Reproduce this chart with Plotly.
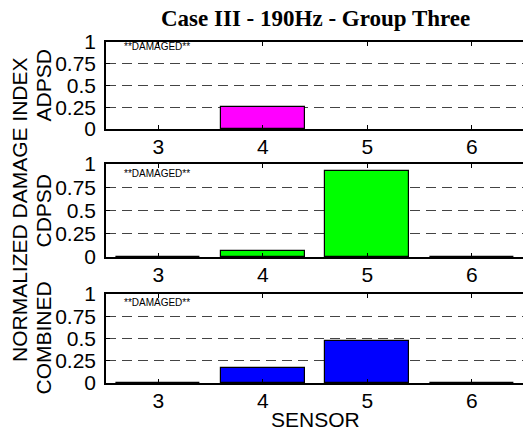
import plotly.graph_objects as go

sensors = [3, 4, 5, 6]
adpsd = [0.0, 0.25, 0.0, 0.0]
cdpsd = [0.005, 0.068, 0.93, 0.005]
combined = [0.005, 0.17, 0.477, 0.005]
panel_labels = ["ADPSD", "CDPSD", "COMBINED"]
panel_colors = ["#ff00ff", "#00ff00", "#0000ff"]
ytick_vals = [0, 0.25, 0.5, 0.75, 1]
ytick_text = ["0", "0.25", "0.5", "0.75", "1"]
note_text = "**DAMAGED**"
note_y = [0.95, 0.9, 0.9]

W, H = 523, 432
L, R, T, B = 106, 0, 42, 49
ph = H - T - B
pw = W - L - R
panels_px = [(42, 129), (164, 257), (294, 383)]

def ypaper(px):
    return (H - B - px) / ph

fig = go.Figure()
series = [adpsd, cdpsd, combined]
tickfont = dict(family="Liberation Sans, Arial", size=21, color="black")
labfont = dict(family="Liberation Sans, Arial", size=21, color="black")

for i, (vals, col) in enumerate(zip(series, panel_colors)):
    n = "" if i == 0 else str(i + 1)
    lw = [1.2 if v > 0 else 0 for v in vals]
    fig.add_trace(go.Bar(x=sensors, y=vals, width=0.8,
                         marker=dict(color=col, line=dict(color="black", width=lw)),
                         xaxis="x" + n, yaxis="y" + n, showlegend=False))
    top, bot = panels_px[i]
    fig.layout["xaxis" + n] = dict(
        domain=[0, 1], anchor="y" + n, range=[2.5, 6.49],
        tickvals=sensors, ticktext=[str(s) for s in sensors],
        ticks="inside", ticklen=4, tickcolor="black",
        showline=True, linecolor="black", linewidth=1.5, mirror="ticks",
        showgrid=False, zeroline=False, tickfont=tickfont, ticklabelstandoff=-2)
    fig.layout["yaxis" + n] = dict(
        domain=[ypaper(bot), ypaper(top)], anchor="x" + n, range=[0, 1],
        tickvals=ytick_vals, ticktext=ytick_text,
        ticks="inside", ticklen=4, tickcolor="black",
        showline=True, linecolor="black", linewidth=1.5,
        showgrid=True, gridcolor="#444444", gridwidth=1, griddash="10px,6px",
        zeroline=False, tickfont=tickfont, ticklabelstandoff=4)
    fig.add_annotation(x=2.65, y=note_y[i], xref="x" + n, yref="y" + n,
                       text=note_text, showarrow=False, xanchor="left",
                       yanchor="middle", font=dict(family="Liberation Sans, Arial", size=10, color="black"))
    fig.add_annotation(x=(43 - L) / pw, y=ypaper((top + bot) / 2), xref="paper", yref="paper",
                       text=panel_labels[i], textangle=-90, showarrow=False,
                       xanchor="center", yanchor="middle", font=labfont)

fig.add_annotation(x=(19 - L) / pw, y=ypaper(210), xref="paper", yref="paper",
                   text="NORMALIZED DAMAGE INDEX", textangle=-90, showarrow=False,
                   xanchor="center", yanchor="middle", font=labfont)
fig.add_annotation(x=(315 - L) / pw, y=ypaper(420), xref="paper", yref="paper",
                   text="SENSOR", showarrow=False, xanchor="center", yanchor="middle",
                   font=labfont)
fig.add_annotation(x=(315 - L) / pw, y=ypaper(18), xref="paper", yref="paper",
                   text="<b>Case III - 190Hz - Group Three</b>", showarrow=False,
                   xanchor="center", yanchor="middle",
                   font=dict(family="Liberation Serif, Times New Roman", size=23, color="black"))

fig.update_layout(width=W, height=H, margin=dict(l=L, r=R, t=T, b=B),
                  paper_bgcolor="white", plot_bgcolor="white", bargap=0)
fig.write_html("out.html")
